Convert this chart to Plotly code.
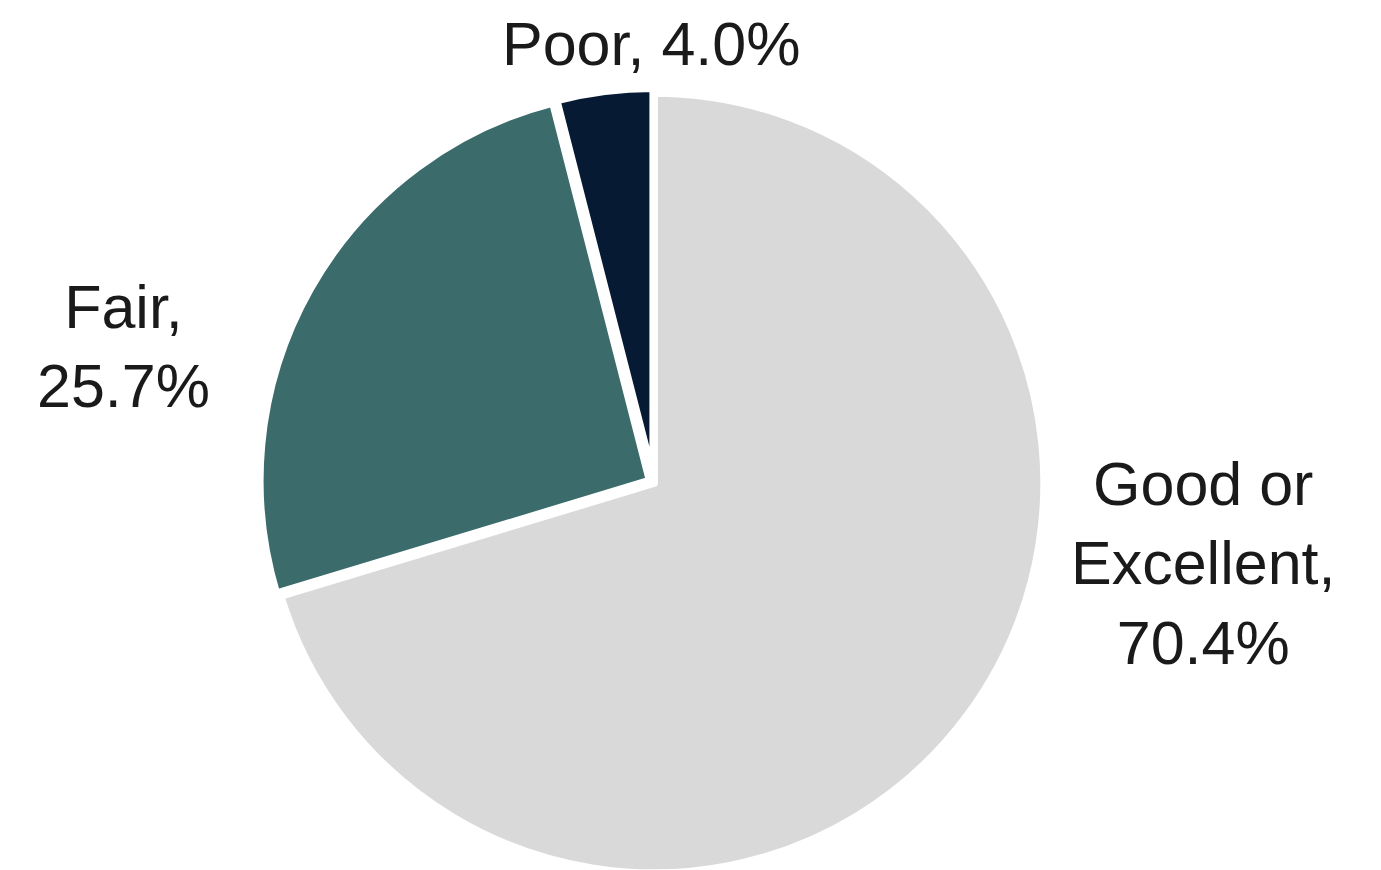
import plotly.graph_objects as go

labels = ["Good or<br>Excellent,", "Fair,", "Poor,"]
values = [70.4, 25.7, 4.0]
colors = ["#d9d9d9", "#3b6b6b", "#071a33"]
pulls = [0, 0.012, 0.012]

# label anchor positions (paper coords) for the outside text
label_pos = [(1195 / 1381, 1 - 555 / 870), (115 / 1381, 1 - 338 / 870), (643 / 1381, 1 - 36 / 870)]

fig = go.Figure(go.Pie(
    labels=labels,
    values=values,
    sort=False,
    direction="clockwise",
    rotation=0,
    pull=pulls,
    marker=dict(colors=colors, line=dict(color="white", width=8)),
    textinfo="none",
    hoverinfo="label+percent",
    showlegend=False,
    domain=dict(x=[146 / 1381, 1146 / 1381], y=[0, 1 - 80 / 870]),
))

annotations = []
for lab, val, (x, y) in zip(labels, values, label_pos):
    sep = " " if lab.startswith("Poor") else "<br>"
    annotations.append(dict(
        x=x, y=y, xref="paper", yref="paper",
        text=f"{lab}{sep}{val:.1f}%", showarrow=False,
        xanchor="center", yanchor="middle", align="center",
        font=dict(family="Liberation Sans, Arial, sans-serif", size=61, color="#1a1a1a"),
    ))

fig.update_layout(
    width=1381, height=870,
    margin=dict(l=0, r=0, t=0, b=0),
    paper_bgcolor="white", plot_bgcolor="white",
    annotations=annotations,
)

fig.write_html("out.html")
